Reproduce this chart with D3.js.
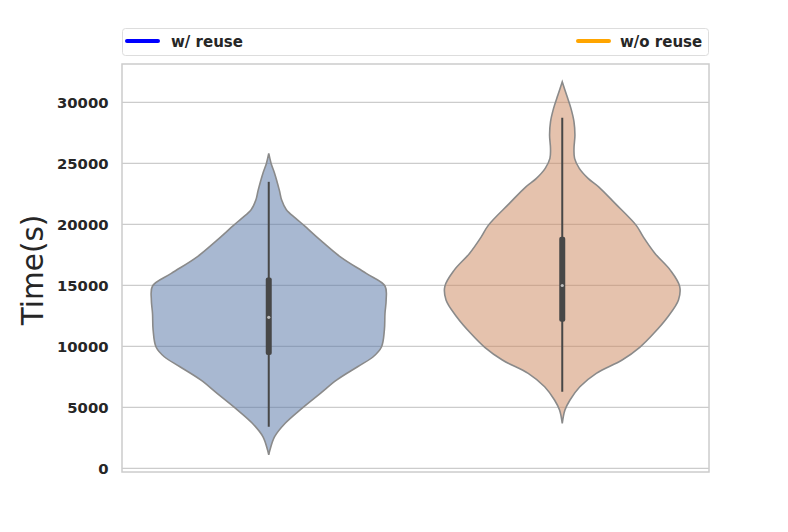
<!DOCTYPE html>
<html lang="en">
<head>
  <meta charset="UTF-8">
  <title>Violin Time(s)</title>
  <script src="https://d3js.org/d3.v7.min.js"></script>
  <style>
    body { margin: 0; background: #fff; }
    text { font-family: "DejaVu Sans", sans-serif; }
  </style>
</head>
<body>
<script>
  // categories
  const groups = ["w/ reuse", "w/o reuse"];
  const legendColors = ["#0000ff", "#ffa500"];
  const fills = ["rgb(81,113,163)", "rgb(203,133,91)"];
  const yTicks = [0, 5000, 10000, 15000, 20000, 25000, 30000];
  const yDomain = [-300, 33150];

  // density outlines (value, relative width)
  const reuseLevels  = [1100, 1500, 2600, 3700, 4900, 6150, 7250, 8350, 9150, 9950, 11350, 12700, 13800, 14950, 15980, 17340, 18710, 19920, 20500, 21200, 22000, 22810, 24180, 25000, 25820];
  const reuseDensity = [0, 0.01, 0.05, 0.14, 0.28, 0.44, 0.58, 0.76, 0.89, 0.96, 0.985, 0.99, 1.0, 0.99, 0.83, 0.61, 0.44, 0.30, 0.23, 0.15, 0.11, 0.09, 0.05, 0.02, 0];
  const noReuseLevels  = [3690, 4780, 5600, 6690, 7790, 8880, 9920, 11070, 12430, 13800, 14920, 16250, 17620, 18980, 19920, 21720, 23080, 23770, 24590, 25410, 26230, 27320, 28410, 29510, 30600, 31690];
  const noReuseDensity = [0, 0.023, 0.066, 0.15, 0.29, 0.51, 0.66, 0.78, 0.90, 0.99, 1.0, 0.92, 0.79, 0.69, 0.63, 0.45, 0.31, 0.22, 0.145, 0.105, 0.10, 0.108, 0.10, 0.074, 0.037, 0];

  // box stats: [whiskerLow, q1, median, q3, whiskerHigh]
  const reuseBox = [3410, 9290, 12380, 15650, 23490];
  const noReuseBox = [6280, 12020, 14990, 18980, 28740];

  const violins = [
    { levels: reuseLevels, density: reuseDensity, box: reuseBox },
    { levels: noReuseLevels, density: noReuseDensity, box: noReuseBox }
  ];

  const W = 788, H = 532;
  const plot = { left: 122, right: 709, top: 64, bottom: 472 };

  const svg = d3.select("body").append("svg")
    .attr("width", W).attr("height", H);

  const x = d3.scaleBand().domain(groups).range([plot.left, plot.right]);
  const y = d3.scaleLinear().domain(yDomain).range([plot.bottom, plot.top]);
  const w = d3.scaleLinear().domain([0, 1]).range([0, x.bandwidth() * 0.4]);

  // grid
  svg.append("g")
    .selectAll("line")
    .data(yTicks)
    .join("line")
    .attr("x1", plot.left).attr("x2", plot.right)
    .attr("y1", d => y(d)).attr("y2", d => y(d))
    .attr("stroke", "#cccccc").attr("stroke-width", 1.1);

  // y axis labels
  const yAxis = svg.append("g")
    .attr("transform", `translate(${plot.left}, 0)`)
    .call(d3.axisLeft(y).tickValues(yTicks).tickFormat(d3.format("d")).tickSize(0).tickPadding(13.5));
  yAxis.select(".domain").remove();
  yAxis.selectAll("text")
    .attr("font-family", "DejaVu Sans")
    .attr("font-size", 14.8)
    .attr("font-weight", "bold")
    .attr("fill", "#262626");

  svg.append("text")
    .attr("transform", `translate(43, ${(plot.top + plot.bottom) / 2 + 2}) rotate(-90)`)
    .attr("text-anchor", "middle")
    .attr("font-size", 29.5)
    .attr("fill", "#262626")
    .text("Time(s)");

  // violins
  violins.forEach((v, i) => {
    const cx = x(groups[i]) + x.bandwidth() / 2;
    const pts = v.levels.map((lv, k) => ({ lv, d: v.density[k] }));
    const area = d3.area()
      .y(p => y(p.lv))
      .x0(p => cx - w(p.d))
      .x1(p => cx + w(p.d))
      .curve(d3.curveCatmullRom.alpha(0.5));

    svg.append("path")
      .datum(pts)
      .attr("d", area)
      .attr("fill", fills[i])
      .attr("fill-opacity", 0.5)
      .attr("stroke", "#8a8a8a")
      .attr("stroke-width", 1.6);

    const b = v.box;
    svg.append("line")
      .attr("x1", cx).attr("x2", cx)
      .attr("y1", y(b[0])).attr("y2", y(b[4]))
      .attr("stroke", "#474747").attr("stroke-width", 2);
    svg.append("rect")
      .attr("x", cx - 3).attr("width", 6)
      .attr("y", y(b[3])).attr("height", y(b[1]) - y(b[3]))
      .attr("rx", 2)
      .attr("fill", "#474747");
    svg.append("circle")
      .attr("cx", cx).attr("cy", y(b[2]))
      .attr("r", 1.6)
      .attr("fill", "#bdbdbd");
  });

  // frame
  svg.append("rect")
    .attr("x", plot.left).attr("y", plot.top)
    .attr("width", plot.right - plot.left).attr("height", plot.bottom - plot.top)
    .attr("fill", "none").attr("stroke", "#cccccc").attr("stroke-width", 1.5);

  // legend
  const legend = svg.append("g");
  legend.append("rect")
    .attr("x", 122.5).attr("y", 28.5)
    .attr("width", 586).attr("height", 27)
    .attr("rx", 3)
    .attr("fill", "#fff").attr("stroke", "#dddddd");
  const legendX = [125, 576];
  const legendTextX = [171, 620];
  groups.forEach((g, i) => {
    legend.append("line")
      .attr("x1", legendX[i] + 2).attr("x2", legendX[i] + 33)
      .attr("y1", 41).attr("y2", 41)
      .attr("stroke", legendColors[i]).attr("stroke-width", 4)
      .attr("stroke-linecap", "round");
    legend.append("text")
      .attr("x", legendTextX[i]).attr("y", 47)
      .attr("font-size", 15)
      .attr("font-weight", "bold")
      .attr("fill", "#262626")
      .text(g);
  });
</script>
</body>
</html>
